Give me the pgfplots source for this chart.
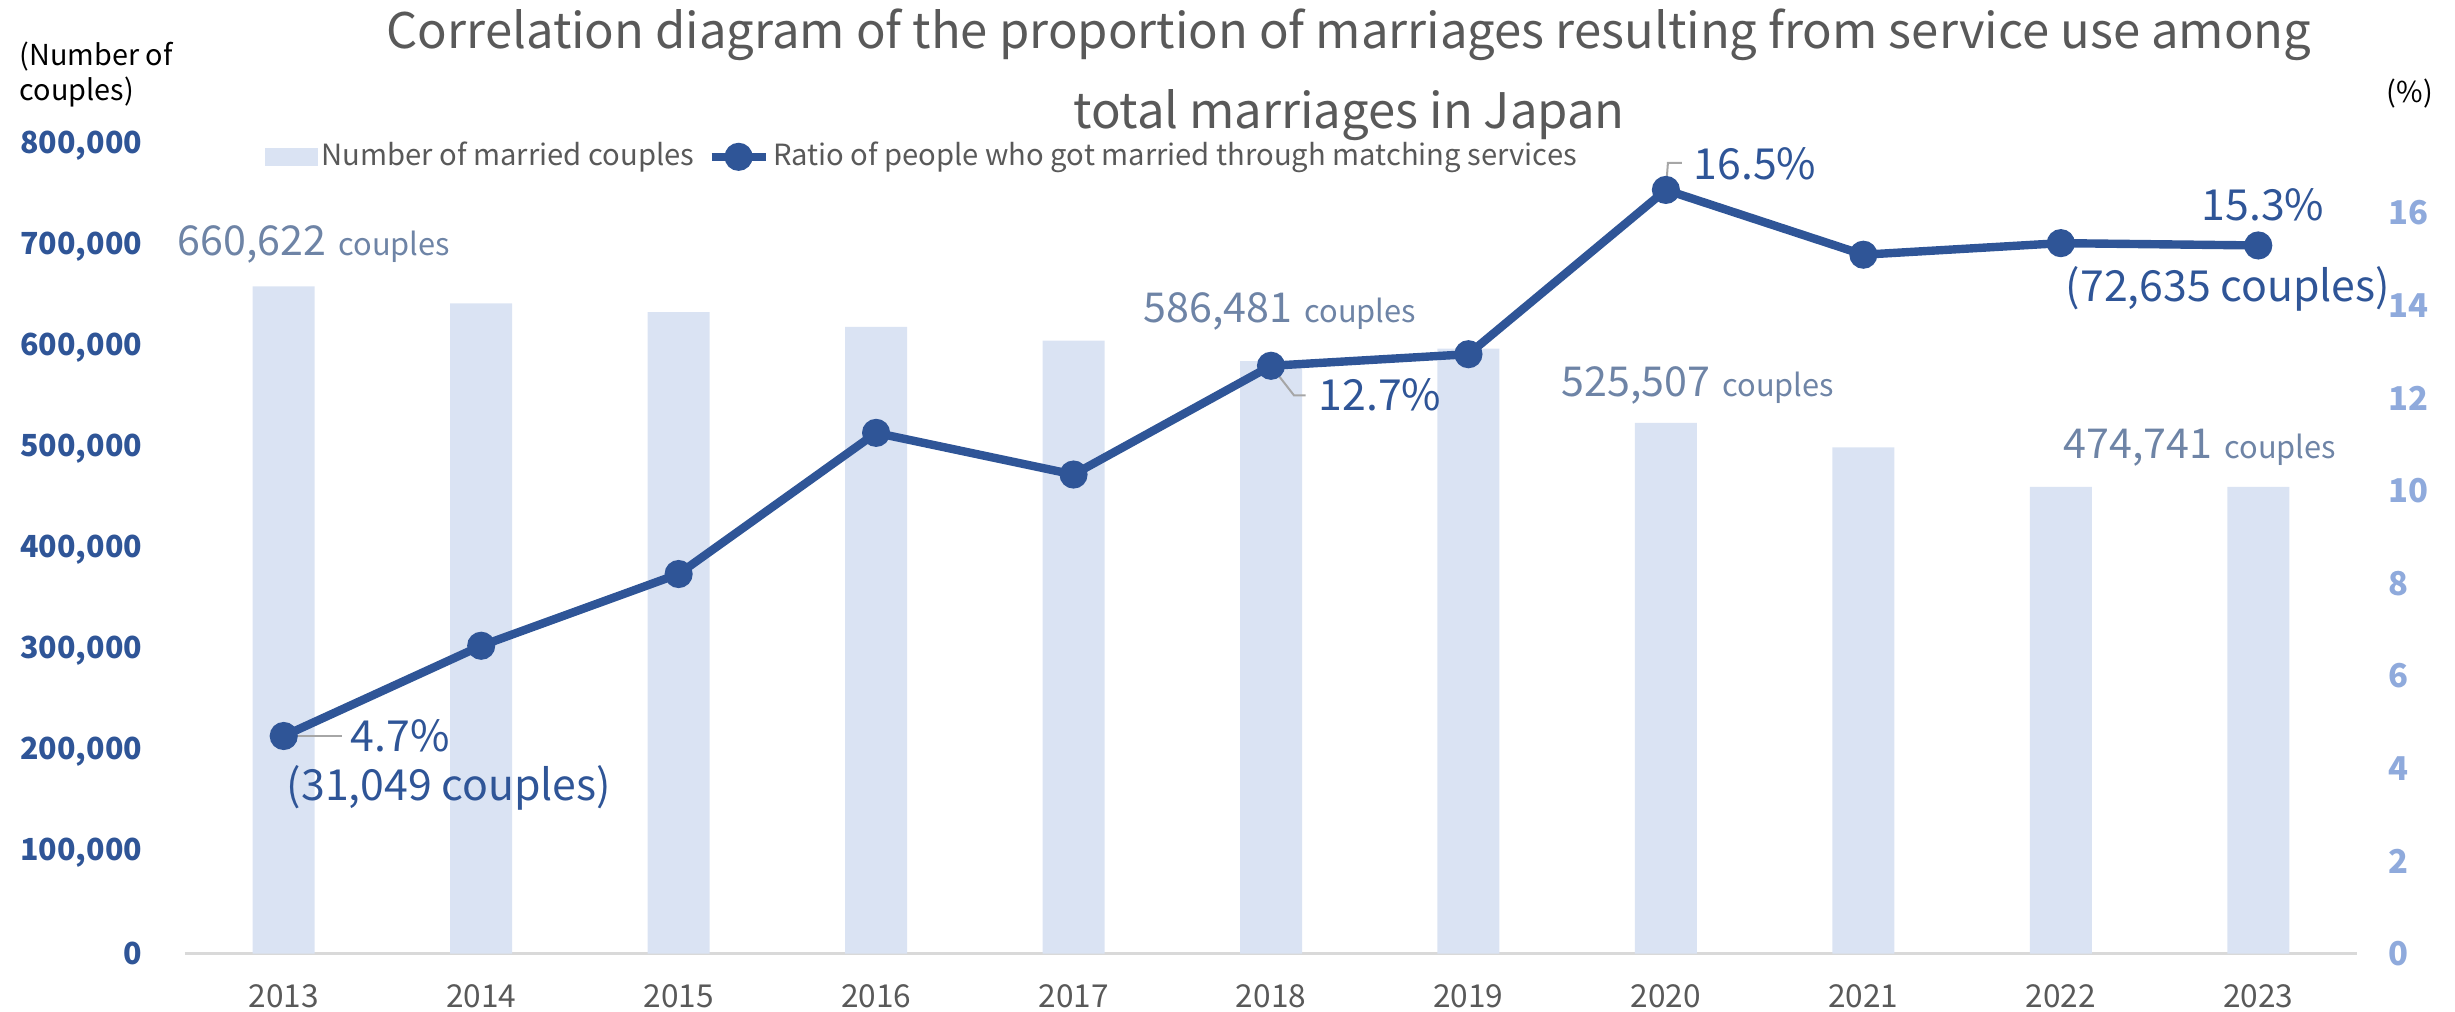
\documentclass[border=0pt]{standalone}
\usepackage{fontspec}
\setmainfont{Noto Sans CJK JP}
\usepackage{pgfplots}
\pgfplotsset{compat=1.18}
\definecolor{barc}{HTML}{DAE3F3}
\definecolor{linec}{HTML}{2F5597}
\definecolor{rtick}{HTML}{8FAADC}
\definecolor{txtgray}{HTML}{595959}
\definecolor{lblc}{HTML}{6E84A6}
\definecolor{axisc}{HTML}{D9D9D9}
\definecolor{leader}{HTML}{A6A6A6}
\newcommand{\fsz}[1]{\fontsize{#1}{#1}\selectfont}
\pgfplotsset{
  mylineleg/.style={legend image code/.code={\draw[mark repeat=2,mark phase=2,##1] plot coordinates {(0pt,0pt) (6.75pt,0pt) (13.5pt,0pt)};}},
  mybarleg/.style={legend image code/.code={\fill[barc] (0pt,-2.1pt) rectangle (13pt,2.1pt);}}
}
\begin{document}
\begin{tikzpicture}
\begin{axis}[
  at={(46.25pt,14.375pt)}, anchor=south west,
  scale only axis, width=543pt, height=202pt,
  xmin=-0.5, xmax=10.5, ymin=0, ymax=800000,
  xtick={0,1,2,3,4,5,6,7,8,9,10},
  xticklabels={2013,2014,2015,2016,2017,2018,2019,2020,2021,2022,2023},
  ytick={0,100000,200000,300000,400000,500000,600000,700000,800000},
  axis x line*=bottom, axis y line*=left,
  x axis line style={draw=axisc, line width=0.6pt},
  y axis line style={draw=none},
  major tick length=0pt,
  scaled y ticks=false,
  /pgf/number format/fixed,
  /pgf/number format/1000 sep={,},
  /pgf/number format/assume math mode=true,
  yticklabel style={font=\fsz{7.6}\bfseries, text=linec, anchor=east, inner sep=0pt, xshift=-10.5pt},
  xticklabel style={font=\fsz{7.9}, text=txtgray, anchor=base, inner sep=0pt, yshift=-13.4pt},
  ybar, bar width=15.5pt,
  clip=false,
]
\addplot[fill=barc, draw=none, bar shift=0pt] coordinates {
  (0,660622) (1,643749) (2,635156) (3,620531) (4,606866) (5,586481)
  (6,599007) (7,525507) (8,501138) (9,462000) (10,462000)};
\end{axis}
\begin{axis}[
  at={(46.25pt,14.375pt)}, anchor=south west,
  scale only axis, width=543pt, height=202pt,
  xmin=-0.5, xmax=10.5, ymin=0, ymax=17.46,
  axis x line=none, axis y line*=right,
  y axis line style={draw=none},
  major tick length=0pt,
  ytick={0,2,4,6,8,10,12,14,16},
  /pgf/number format/assume math mode=true,
  yticklabel style={font=\fsz{8.2}\bfseries, text=rtick, anchor=west, inner sep=0pt, xshift=7.75pt},
  clip=false,
  legend columns=2,
  legend style={draw=none, fill=none, inner sep=0pt, font=\fsz{7.3}, text=txtgray,
    at={(axis description cs:0.0364,0.986)}, anchor=west,
    nodes={inner xsep=0.8pt, inner ysep=0pt},
    /tikz/every even column/.append style={column sep=2.5pt}},
]
\addlegendimage{mybarleg}
\addlegendentry{Number of married couples}
\addplot[linec, line width=2.1pt, mark=*, mark size=2.45pt, mark options={fill=linec, draw=linec, solid}, mylineleg]
  coordinates {(0,4.7) (1,6.65) (2,8.2) (3,11.25) (4,10.35) (5,12.7) (6,12.95) (7,16.5) (8,15.1) (9,15.35) (10,15.3)};
\addlegendentry{Ratio of people who got married through matching services}
\draw[leader, line width=0.5pt] (axis cs:0,4.7) -- ++(14.5pt,0pt);
\draw[leader, line width=0.5pt] (axis cs:5,12.7) -- ++(5.75pt,-7.4pt) -- ++(2.9pt,0pt);
\draw[leader, line width=0.5pt] (axis cs:7,16.5) -- ++(0.5pt,6.75pt) -- ++(3.5pt,0pt);
\end{axis}
% titles
\node[anchor=base, inner sep=0pt, text=txtgray, font=\fsz{12.25}] at (337.25pt,240.7pt) {Correlation diagram of the proportion of marriages resulting from service use among};
\node[anchor=base, inner sep=0pt, text=txtgray, font=\fsz{12.25}] at (337.25pt,220.75pt) {total marriages in Japan};
\node[anchor=base west, inner sep=0pt, font=\fsz{7.2}] at (4.75pt,236.5pt) {(Number of};
\node[anchor=base west, inner sep=0pt, font=\fsz{7.2}] at (4.75pt,227.75pt) {couples)};
\node[anchor=base west, inner sep=0pt, font=\fsz{7.2}] at (596.5pt,227.25pt) {(\%)};
% bar labels
\node[anchor=base west, inner sep=0pt, text=lblc] at (44.25pt,189pt) {\fsz{10.3}660,622\hspace{3pt}\fsz{7.7}couples};
\node[anchor=base west, inner sep=0pt, text=lblc] at (285.75pt,172.25pt) {\fsz{10.3}586,481\hspace{3pt}\fsz{7.7}couples};
\node[anchor=base west, inner sep=0pt, text=lblc] at (390.25pt,153.6pt) {\fsz{10.3}525,507\hspace{3pt}\fsz{7.7}couples};
\node[anchor=base west, inner sep=0pt, text=lblc] at (515.75pt,138.25pt) {\fsz{10.3}474,741\hspace{3pt}\fsz{7.7}couples};
% line labels
\node[anchor=base west, inner sep=0pt, text=linec, font=\fsz{10.7}] at (87.5pt,64.8pt) {4.7\%};
\node[anchor=base west, inner sep=0pt, text=linec, font=\fsz{10.7}] at (71.5pt,52.75pt) {(31,049 couples)};
\node[anchor=base west, inner sep=0pt, text=linec, font=\fsz{10.7}] at (329.5pt,150.25pt) {12.7\%};
\node[anchor=base west, inner sep=0pt, text=linec, font=\fsz{10.7}] at (423.25pt,207.9pt) {16.5\%};
\node[anchor=base west, inner sep=0pt, text=linec, font=\fsz{10.7}] at (550.25pt,197.75pt) {15.3\%};
\node[anchor=base west, inner sep=0pt, text=linec, font=\fsz{10.7}] at (516.25pt,177.3pt) {(72,635 couples)};
\pgfresetboundingbox
\useasboundingbox (0pt,0pt) rectangle (613.75pt,252.75pt);
\end{tikzpicture}
\end{document}
